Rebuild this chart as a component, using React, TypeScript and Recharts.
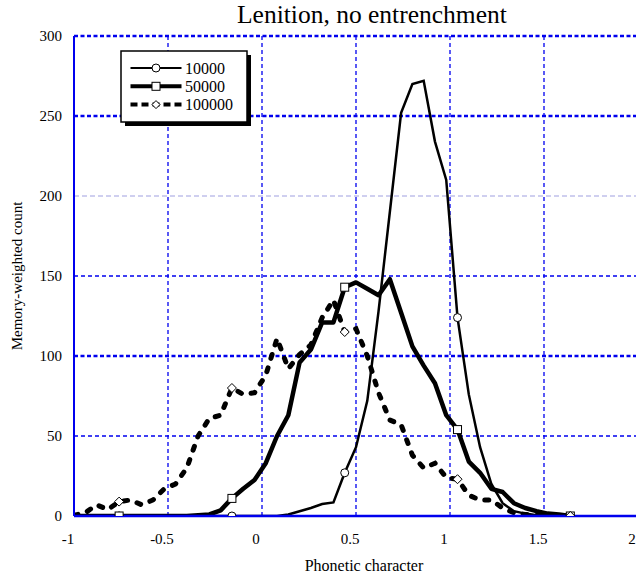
import React from "react";
import {
  LineChart,
  Line,
  XAxis,
  YAxis,
  ReferenceLine,
  Legend,
} from "recharts";

// x bins (step 0.06), memory-weighted counts per generation
const phonetic = [
  -1.0, -0.94, -0.88, -0.82, -0.76, -0.7, -0.64, -0.58, -0.52, -0.46, -0.4,
  -0.34, -0.28, -0.22, -0.16, -0.1, -0.04, 0.02, 0.08, 0.14, 0.2, 0.26, 0.32,
  0.38, 0.44, 0.5, 0.56, 0.62, 0.68, 0.74, 0.8, 0.86, 0.92, 0.98, 1.04, 1.1,
  1.16, 1.22, 1.28, 1.34, 1.4, 1.46, 1.52, 1.58, 1.64,
];
const gen10000 = [
  0, 0, 0, 0, 0, 0, 0, 0, 0, 0, 0, 0, 0, 0, 0, 0, 0, 0, 0, 1, 3, 5, 7.5, 8.5,
  27, 43, 72, 128, 190, 252, 270, 272, 234, 210, 124, 76, 43, 20, 8, 3, 1.5,
  0.5, 0, 0, 0,
];
const gen50000 = [
  0, 0, 0, 0, 0, 0, 0, 0, 0, 0, 0, 0.5, 1, 3.5, 11, 17, 22.5, 33, 50, 63, 96,
  104, 121, 121, 143, 146, 142, 138, 148, 127, 106, 94, 83, 63, 54, 34, 27, 17,
  15, 8, 5, 3, 1.5, 1, 0,
];
const gen100000 = [
  0.5, 2, 7, 4, 9, 10, 7, 10, 17, 20, 30, 50, 61, 63, 80, 76, 77, 88, 111, 92,
  101, 107, 124, 135, 115, 117, 100, 77, 60, 57, 38, 30, 33, 24, 23, 13, 10, 10,
  5, 2, 1, 0.5, 0, 0, 0,
];
const markerIdx = [4, 14, 24, 34, 44];

const xTicks = [-1, -0.5, 0, 0.5, 1, 1.5, 2];
const yTicks = [0, 50, 100, 150, 200, 250, 300];
const xMinor = Array.from({ length: 31 }, (_, i) => Math.round((-1 + i * 0.1) * 10) / 10);
const yMinor = Array.from({ length: 31 }, (_, i) => i * 10);
const xGrid = [-0.5, 0, 0.5, 1, 1.5];
const yGrid = [50, 100, 150, 200, 250];

const data = phonetic.map((x, i) => ({
  x,
  g1: gen10000[i],
  g2: gen50000[i],
  g3: gen100000[i],
}));

const BLUE = "#0000ee";
const FONT = '"Liberation Serif", "Times New Roman", serif';

const yGridStyle: Record<number, any> = {
  250: { stroke: BLUE, strokeWidth: 2.5, strokeDasharray: "4 2.5" },
  200: { stroke: "#9f9fe0", strokeWidth: 1, strokeDasharray: "5 3" },
  150: { stroke: BLUE, strokeWidth: 1.3, strokeDasharray: "4 3" },
  100: { stroke: BLUE, strokeWidth: 2.5, strokeDasharray: "4 2.5" },
  50: { stroke: BLUE, strokeWidth: 1.3, strokeDasharray: "4 3" },
};

function marker(shape: "circle" | "square" | "diamond") {
  return (props: any) => {
    const { cx, cy, index } = props;
    if (!markerIdx.includes(index) || cx == null || cy == null)
      return <g key={`d-${index}`} />;
    if (shape === "circle")
      return <circle key={`d-${index}`} cx={cx} cy={cy} r={4} fill="#fff" stroke="#000" strokeWidth={1} />;
    if (shape === "square")
      return <rect key={`d-${index}`} x={cx - 4} y={cy - 4} width={8} height={8} fill="#fff" stroke="#000" strokeWidth={1} />;
    return (
      <path
        key={`d-${index}`}
        d={`M${cx},${cy - 4.5}L${cx + 4.5},${cy}L${cx},${cy + 4.5}L${cx - 4.5},${cy}Z`}
        fill="#fff"
        stroke="#000"
        strokeWidth={1}
      />
    );
  };
}

function LegendBox() {
  const rows = [
    { name: "10000", w: 2, dash: undefined, shape: "circle" },
    { name: "50000", w: 4, dash: undefined, shape: "square" },
    { name: "100000", w: 4, dash: "7 4", shape: "diamond" },
  ];
  return (
    <svg width={134} height={80} style={{ display: "block" }}>
      <rect x={6} y={6} width={126} height={71} fill="#000" />
      <rect x={2} y={2} width={126} height={71} fill="#fff" stroke="#000" strokeWidth={1.5} />
      {rows.map((r, i) => {
        const y = 19 + i * 18.3;
        return (
          <g key={r.name}>
            <line x1={11.5} x2={62.5} y1={y} y2={y} stroke="#000" strokeWidth={r.w} strokeDasharray={r.dash} />
            {r.shape === "circle" && <circle cx={37} cy={y} r={4} fill="#fff" stroke="#000" />}
            {r.shape === "square" && <rect x={33} y={y - 4} width={8} height={8} fill="#fff" stroke="#000" />}
            {r.shape === "diamond" && (
              <path d={`M37,${y - 4}L41,${y}L37,${y + 4}L33,${y}Z`} fill="#fff" stroke="#000" />
            )}
            <text x={66} y={y + 5.5} fontSize={16} fontFamily={FONT} fill="#000">
              {r.name}
            </text>
          </g>
        );
      })}
    </svg>
  );
}

export default function App() {
  return (
    <div
      style={{
        position: "absolute",
        left: 0,
        top: 0,
        width: 636,
        height: 575,
        overflow: "hidden",
        background: "#fff",
        fontFamily: FONT,
      }}
    >
      <div
        style={{
          position: "absolute",
          left: 237,
          top: 2,
          fontSize: 25.5,
          lineHeight: 1,
          whiteSpace: "nowrap",
          color: "#000",
        }}
      >
        Lenition, no entrenchment
      </div>
      <LineChart
        width={650}
        height={575}
        data={data}
        margin={{ top: 36, right: 12, left: 0, bottom: 0 }}
        style={{ fontFamily: FONT }}
      >
        {xGrid.map((v) => (
          <ReferenceLine key={`vx${v}`} x={v} stroke={BLUE} strokeWidth={1.3} strokeDasharray="4 3" />
        ))}
        {yGrid.map((v) => (
          <ReferenceLine key={`hy${v}`} y={v} {...yGridStyle[v]} />
        ))}
        <ReferenceLine y={300} stroke={BLUE} strokeWidth={2.5} strokeDasharray="4 2.5" />
        <ReferenceLine x={2} stroke={BLUE} strokeWidth={2} />

        <Line
          dataKey="g1"
          name="10000"
          type="linear"
          stroke="#000"
          strokeWidth={2.5}
          dot={marker("circle")}
          activeDot={false}
          isAnimationActive={false}
        />
        <Line
          dataKey="g2"
          name="50000"
          type="linear"
          stroke="#000"
          strokeWidth={4.5}
          strokeLinejoin="round"
          dot={marker("square")}
          activeDot={false}
          isAnimationActive={false}
        />
        <Line
          dataKey="g3"
          name="100000"
          type="linear"
          stroke="#000"
          strokeWidth={5}
          strokeDasharray="4 10"
          strokeLinecap="round"
          dot={marker("diamond")}
          activeDot={false}
          isAnimationActive={false}
        />

        <XAxis
          dataKey="x"
          type="number"
          domain={[-1, 2]}
          ticks={xTicks}
          interval={0}
          allowDataOverflow
          height={59}
          tickLine={false}
          tickSize={8}
          tickMargin={9}
          axisLine={{ stroke: BLUE, strokeWidth: 2.5 }}
          tick={{ fill: "#000", fontSize: 15, fontFamily: FONT, dx: -6 }}
          label={{
            value: "Phonetic character",
            position: "insideBottom",
            offset: 4,
            dx: 8,
            style: { fill: "#000", fontSize: 16, fontFamily: FONT },
          }}
        />
        <XAxis
          xAxisId="minorBottom"
          dataKey="x"
          type="number"
          domain={[-1, 2]}
          ticks={xMinor}
          interval={0}
          orientation="bottom"
          mirror
          tick={false}
          tickSize={5}
          axisLine={false}
          tickLine={{ stroke: BLUE, strokeWidth: 1.3 }}
        />
        <XAxis
          xAxisId="minorTop"
          dataKey="x"
          type="number"
          domain={[-1, 2]}
          ticks={xMinor}
          interval={0}
          orientation="top"
          mirror
          tick={false}
          tickSize={4}
          axisLine={false}
          tickLine={{ stroke: BLUE, strokeWidth: 1.3 }}
        />
        <YAxis
          type="number"
          domain={[0, 300]}
          ticks={yTicks}
          interval={0}
          allowDataOverflow
          width={74}
          tickLine={false}
          tickSize={6}
          tickMargin={6}
          axisLine={{ stroke: BLUE, strokeWidth: 2 }}
          tick={{ fill: "#000", fontSize: 15, fontFamily: FONT }}
          label={{
            value: "Memory-weighted count",
            angle: -90,
            position: "insideLeft",
            offset: 17,
            style: { textAnchor: "middle", fill: "#000", fontSize: 15, fontFamily: FONT },
          }}
        />
        <YAxis
          yAxisId="minorLeft"
          type="number"
          domain={[0, 300]}
          ticks={yMinor}
          interval={0}
          orientation="left"
          mirror
          tick={false}
          tickSize={5}
          axisLine={false}
          tickLine={{ stroke: BLUE, strokeWidth: 1.3 }}
        />
        <YAxis
          yAxisId="minorRight"
          type="number"
          domain={[0, 300]}
          ticks={yMinor}
          interval={0}
          orientation="right"
          mirror
          tick={false}
          tickSize={5}
          axisLine={false}
          tickLine={{ stroke: BLUE, strokeWidth: 1.3 }}
        />
        <Legend
          layout="vertical"
          align="center"
          verticalAlign="middle"
          content={() => <LegendBox />}
          wrapperStyle={{ left: 119, top: 49, width: 134, height: 80 }}
        />
      </LineChart>
    </div>
  );
}
